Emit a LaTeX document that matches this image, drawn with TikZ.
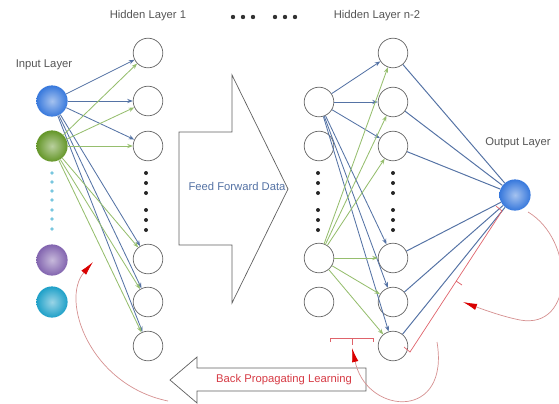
\documentclass[tikz,border=0pt]{standalone}
\usepackage{fontspec}
\setmainfont{Liberation Sans}
\usetikzlibrary{arrows.meta}
\definecolor{lineblue}{RGB}{85,115,165}
\definecolor{linegreen}{RGB}{150,190,110}
\definecolor{ballblue}{RGB}{55,120,220}
\definecolor{ballgreen}{RGB}{100,150,40}
\definecolor{ballpurple}{RGB}{130,100,175}
\definecolor{ballteal}{RGB}{30,160,200}
\definecolor{labelgray}{RGB}{85,85,85}
\definecolor{backred}{RGB}{215,60,70}
\begin{document}
\begin{tikzpicture}[x=0.025cm, y=-0.025cm,
    every node/.style={font=\fontsize{8}{9}\selectfont},
    neuron/.style={circle, draw=gray!80!black, line width=0.5pt, fill=white, minimum size=0.74cm, inner sep=0pt},
    ball/.style={circle, shade, inner color=#1!45, outer color=#1, minimum size=0.78cm, inner sep=0pt},
    lbl/.style={text=labelgray},
    blueline/.style={draw=lineblue, line width=0.6pt, -{Stealth[length=4pt, width=3pt]}},
    greenline/.style={draw=linegreen, line width=0.6pt, -{Stealth[length=4pt, width=3pt]}},
    outline/.style={draw=lineblue, line width=0.7pt},
    fatarrow/.style={draw=gray!75!black, line width=0.5pt, fill=white},
    redcurve/.style={draw=red!45!gray!60, line width=0.5pt},
    redtip/.style={-{Latex[length=10pt, width=4.5pt, color=red!85!black]}}]
\useasboundingbox (0,0) rectangle (559,403);

% hollow arrows
\draw[fatarrow] (179,132) -- (232,132) -- (232,75) -- (288,189) -- (232,303) -- (232,245) -- (179,245) -- cycle;
\draw[fatarrow] (366,368) -- (197,368) -- (197,357) -- (170,380) -- (197,403) -- (197,391) -- (366,391) -- cycle;

% labels
\node[lbl] (lin) at (44, 65) {Input Layer};
\node[lbl] (lh1) at (148, 16) {Hidden Layer 1};
\node[lbl] (lhn) at (377, 16) {Hidden Layer n-2};
\node[lbl] (lout) at (518, 143) {Output Layer};
\node[text=lineblue] (lff) at (237, 186) {Feed Forward Data};
\node[text=backred] (lbp) at (284, 380) {Back Propagating Learning};

% input layer
\node[ball=ballblue] (i1) at (52, 101) {};
\node[ball=ballgreen] (i2) at (52, 146) {};
\node[ball=ballpurple] (i3) at (52, 260) {};
\node[ball=ballteal] (i4) at (52, 302) {};

% hidden layer 1
\node[neuron] (h11) at (148, 53) {};
\node[neuron] (h12) at (148, 101) {};
\node[neuron] (h13) at (148, 146) {};
\node[neuron] (h14) at (148, 259) {};
\node[neuron] (h15) at (148, 302) {};
\node[neuron] (h16) at (148, 346) {};

% hidden layer n-3
\node[neuron] (h21) at (319, 102) {};
\node[neuron] (h22) at (319, 146) {};
\node[neuron] (h23) at (319, 258) {};
\node[neuron] (h24) at (319, 302) {};

% hidden layer n-2
\node[neuron] (h31) at (393, 53) {};
\node[neuron] (h32) at (393, 102) {};
\node[neuron] (h33) at (393, 146) {};
\node[neuron] (h34) at (393, 258) {};
\node[neuron] (h35) at (393, 302) {};
\node[neuron] (h36) at (393, 346) {};

% output layer
\node[ball=ballblue] (o1) at (515, 195) {};

% dots
\foreach \y in {173,182,191,200,210,219,229} \fill[ballteal!60] (52,\y) circle (1.8);
\foreach \x in {146,318,393} \foreach \y in {173,183,193,210,220,230} \fill[black!85] (\x,\y) circle (2);
\foreach \x in {233,243,253,275,285,295} \fill[black!80] (\x,17) circle (2.2);

\draw[blueline] (i1) -- (h11);
\draw[blueline] (i1) -- (h12);
\draw[blueline] (i1) -- (h13);
\draw[blueline] (i1) -- (h14);
\draw[blueline] (i1) -- (h15);
\draw[blueline] (i1) -- (h16);

\draw[greenline] (i2) -- (h11);
\draw[greenline] (i2) -- (h12);
\draw[greenline] (i2) -- (h13);
\draw[greenline] (i2) -- (h14);
\draw[greenline] (i2) -- (h15);
\draw[greenline] (i2) -- (h16);

\draw[blueline] (h21) -- (h31);
\draw[blueline] (h21) -- (h32);
\draw[blueline] (h21) -- (h33);
\draw[blueline] (h21) -- (h34);
\draw[blueline] (h21) -- (h35);
\draw[blueline] (h21) -- (h36);

\draw[greenline] (h23) -- (h31);
\draw[greenline] (h23) -- (h32);
\draw[greenline] (h23) -- (h33);
\draw[greenline] (h23) -- (h34);
\draw[greenline] (h23) -- (h35);
\draw[greenline] (h23) -- (h36);

\draw[outline] (h31) -- (o1);
\draw[outline] (h32) -- (o1);
\draw[outline] (h33) -- (o1);
\draw[outline] (h34) -- (o1);
\draw[outline] (h35) -- (o1);
\draw[outline] (h36) -- (o1);

% error brackets
\draw[backred!80, line width=0.5pt] (404,347) -- (410,352) -- (502,211) -- (496,206);
\draw[backred!80, line width=0.5pt] (456,281) -- (462,285);
\draw[backred!80, line width=0.5pt] (330,342) -- (330,338) -- (373,338) -- (373,342);
\draw[backred!80, line width=0.5pt] (352,338) -- (352,345);

% feedback curves
\draw[redcurve, redtip] (528,212) .. controls (575,240) and (575,330) .. (520,320) .. controls (505,317) and (490,312) .. (463,302);
\draw[redcurve, redtip] (437,342) .. controls (450,420) and (370,415) .. (356,365) -- (352,348);
\draw[redcurve, redtip] (168,401) .. controls (90,385) and (60,300) .. (93,262);
\end{tikzpicture}
\end{document}
